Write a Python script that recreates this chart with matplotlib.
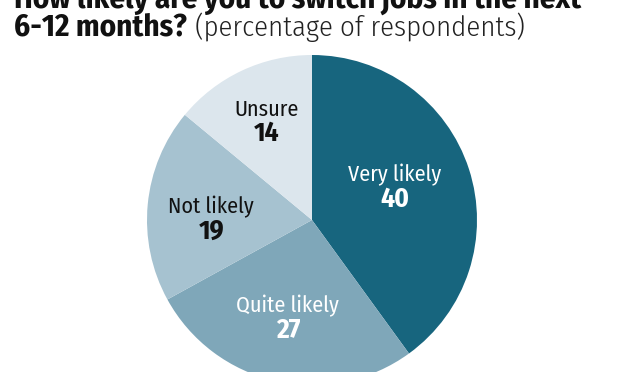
import matplotlib.pyplot as plt
import numpy as np
from matplotlib import font_manager

categories = ['Very likely', 'Quite likely', 'Not likely', 'Unsure']
shares = [40, 27, 19, 14]
colours = ['#17657e', '#7fa7b9', '#a6c2d0', '#dce6ed']
label_colours = ['white', 'white', '#111111', '#111111']

# label placement (fraction of radius, angle nudge in degrees) - styling only
label_radius = [0.54, 0.61, 0.61, 0.66]
label_nudge = [4, -1.3, 4.5, -0.6]

names = {f.name for f in font_manager.fontManager.ttflist}
FONT = next(f for f in ['Fira Sans Condensed', 'Roboto Condensed', 'IBM Plex Sans Condensed',
                        'Asap Condensed', 'DejaVu Sans'] if f in names)

W, H = 640, 372
fig = plt.figure(figsize=(W / 100, H / 100), dpi=100)
renderer = fig.canvas.get_renderer()


def scale_for(t, width):
    return width / t.get_window_extent(renderer).width


# pie centre (312, 220) px from top-left, radius 165 px
cx, cy, r = 312, 220, 165
ax = fig.add_axes([(cx - r) / W, (H - cy - r) / H, 2 * r / W, 2 * r / H])
wedges, _ = ax.pie(shares, colors=colours, startangle=90, counterclock=False,
                   radius=1, wedgeprops=dict(linewidth=0))
ax.set_xlim(-1, 1)
ax.set_ylim(-1, 1)
ax.set_aspect('equal')
ax.axis('off')

labels, numbers = [], []
for w, cat, val, col, rad, nud in zip(wedges, categories, shares, label_colours,
                                      label_radius, label_nudge):
    mid = np.radians((w.theta1 + w.theta2) / 2 + nud)
    x, y = rad * np.cos(mid), rad * np.sin(mid)
    labels.append(ax.text(x, y + 5 / r, cat, ha='center', va='baseline', color=col,
                          fontsize=15, family=FONT))
    numbers.append(ax.text(x, y - 20 / r, str(val), ha='center', va='baseline', color=col,
                           fontsize=15, fontweight='bold', family=FONT))
k = scale_for(labels[0], 93)
for t in labels:
    t.set_fontsize(15 * k)
k = scale_for(numbers[0], 29)
for t in numbers:
    t.set_fontsize(15 * k)

t1 = fig.text(14 / W, 1 - 7.5 / H, 'How likely are you to switch jobs in the next',
              fontsize=20, fontweight='bold', family=FONT, va='baseline', color='#111111')
t2 = fig.text(14 / W, 1 - 36 / H, '6-12 months?', fontsize=20, fontweight='bold',
              family=FONT, va='baseline', color='#111111')
k = (scale_for(t1, 569) + scale_for(t2, 173)) / 2
t1.set_fontsize(20 * k)
t2.set_fontsize(20 * k)
t3 = fig.text(195 / W, 1 - 36 / H, '(percentage of respondents)', fontsize=20,
              fontweight=300, family=FONT, va='baseline', color='#222222')
t3.set_fontsize(20 * scale_for(t3, 330))

fig.savefig('out.png', dpi=100)
